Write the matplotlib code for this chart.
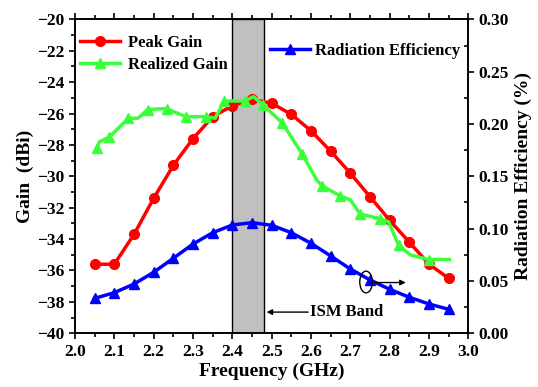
import matplotlib
matplotlib.use("Agg")
import matplotlib.pyplot as plt
from matplotlib.patches import Ellipse

plt.rcParams['font.family'] = 'Liberation Serif'
plt.rcParams['font.weight'] = 'bold'
plt.rcParams['axes.labelweight'] = 'bold'

# peak gain (dBi), sampled every 50 MHz
freq = [2.05, 2.10, 2.15, 2.20, 2.25, 2.30, 2.35, 2.40, 2.45, 2.50,
        2.55, 2.60, 2.65, 2.70, 2.75, 2.80, 2.85, 2.90, 2.95]
peak_gain = [-35.6, -35.6, -33.7, -31.4, -29.3, -27.6, -26.2, -25.5, -25.1, -25.35,
             -26.05, -27.1, -28.4, -29.8, -31.3, -32.8, -34.2, -35.6, -36.5]

# realized gain (dBi), finer sweep
rg_freq = [2.055, 2.062, 2.087, 2.136, 2.160, 2.185, 2.215, 2.233, 2.282, 2.333,
           2.356, 2.380, 2.431, 2.454, 2.478, 2.527, 2.578, 2.615, 2.628, 2.674,
           2.700, 2.725, 2.776, 2.797, 2.823, 2.852, 2.899, 2.952]
realized_gain = [-28.2, -27.8, -27.5, -26.3, -26.3, -25.75, -25.7, -25.7, -26.2, -26.2,
                 -26.3, -25.2, -25.2, -24.93, -25.45, -26.6, -28.6, -30.25, -30.6, -31.25,
                 -31.5, -32.4, -32.7, -32.9, -34.4, -35.0, -35.3, -35.3]
rg_marks = [0, 2, 3, 5, 7, 8, 9, 11, 12, 14, 15, 16, 18, 19, 21, 22, 24, 26]

# radiation efficiency
rad_eff = [0.0334, 0.0388, 0.0471, 0.0583, 0.0717, 0.0853, 0.0961, 0.1035, 0.1057, 0.1032,
           0.0961, 0.0860, 0.0739, 0.0614, 0.0510, 0.0420, 0.0344, 0.0280, 0.0229]

ism_band = (2.40, 2.48)

fig = plt.figure(figsize=(5.38, 3.87), dpi=100)
ax = fig.add_axes([0.1394, 0.1388, 0.7311, 0.8112])
ax2 = ax.twinx()

ax.axvspan(ism_band[0], ism_band[1], facecolor='#c0c0c0', edgecolor='black', lw=1.0, zorder=0)

l1, = ax.plot(freq, peak_gain, color='red', lw=2.5, marker='o', ms=7, label='Peak Gain', zorder=3)
l2, = ax.plot(rg_freq, realized_gain, color='#3cff3c', lw=2.5, marker='^', ms=7,
              markevery=rg_marks, label='Realized Gain', zorder=3)
l3, = ax2.plot(freq, rad_eff, color='blue', lw=2.5, marker='^', ms=7, label='Radiation Efficiency')

ax.set_xlim(2.0, 3.0)
ax.set_ylim(-40, -20)
ax2.set_ylim(0, 0.30)
ax.set_xticks([2.0 + 0.1 * i for i in range(11)])
ax.set_xticks([2.05 + 0.1 * i for i in range(10)], minor=True)
ax.set_yticks(range(-40, -19, 2))
ax.set_yticks(range(-39, -20, 2), minor=True)
ax2.set_yticks([0.05 * i for i in range(7)])
ax2.set_yticks([0.025 + 0.05 * i for i in range(6)], minor=True)
ax.set_xticklabels(['%.1f' % (2.0 + 0.1 * i) for i in range(11)])
ax2.set_yticklabels(['%.2f' % (0.05 * i) for i in range(7)])

ax.tick_params(axis='both', which='both', direction='out', labelsize=12.5, width=1.2)
ax.tick_params(which='major', length=4)
ax.tick_params(which='minor', length=3)
ax.tick_params(axis='x', which='both', top=True)
ax2.tick_params(axis='y', which='major', direction='out', length=4, width=1.2, labelsize=12.5)
ax2.tick_params(axis='y', which='minor', direction='in', length=3, width=1.2)
for a in (ax, ax2):
    for s in a.spines.values():
        s.set_linewidth(1.2)

ax.set_xlabel('Frequency (GHz)', fontsize=14, labelpad=2)
ax.set_ylabel('Gain  (dBi)', fontsize=14, labelpad=2)
ax2.set_ylabel('Radiation Efficiency (%)', fontsize=14, labelpad=4)

ax.legend(handles=[l1, l2], loc='upper left', bbox_to_anchor=(-0.005, 0.972),
          frameon=False, fontsize=12, handlelength=2.4, handletextpad=0.5,
          labelspacing=0.35, borderaxespad=0.0)
ax2.legend(handles=[l3], loc='upper left', bbox_to_anchor=(0.48, 0.945),
           frameon=False, fontsize=12, handlelength=2.4, handletextpad=0.3,
           borderaxespad=0.0)

# ISM band callout
ax.annotate('', xy=(ism_band[1], -38.65), xytext=(2.60, -38.65),
            arrowprops=dict(arrowstyle='-|>', color='black', lw=1.0, mutation_scale=8))
ax.text(2.598, -38.65, 'ISM Band', fontsize=12, va='center', ha='left')

# ellipse + arrow pointing the efficiency curve to the right axis
ax2.add_patch(Ellipse((2.74, 0.049), 0.032, 0.0207, fill=False, edgecolor='black', lw=1.0, zorder=5))
ax2.annotate('', xy=(2.848, 0.0485), xytext=(2.755, 0.0485),
             arrowprops=dict(arrowstyle='-|>', color='black', lw=1.0, mutation_scale=8))

fig.savefig('out.png', dpi=100)
